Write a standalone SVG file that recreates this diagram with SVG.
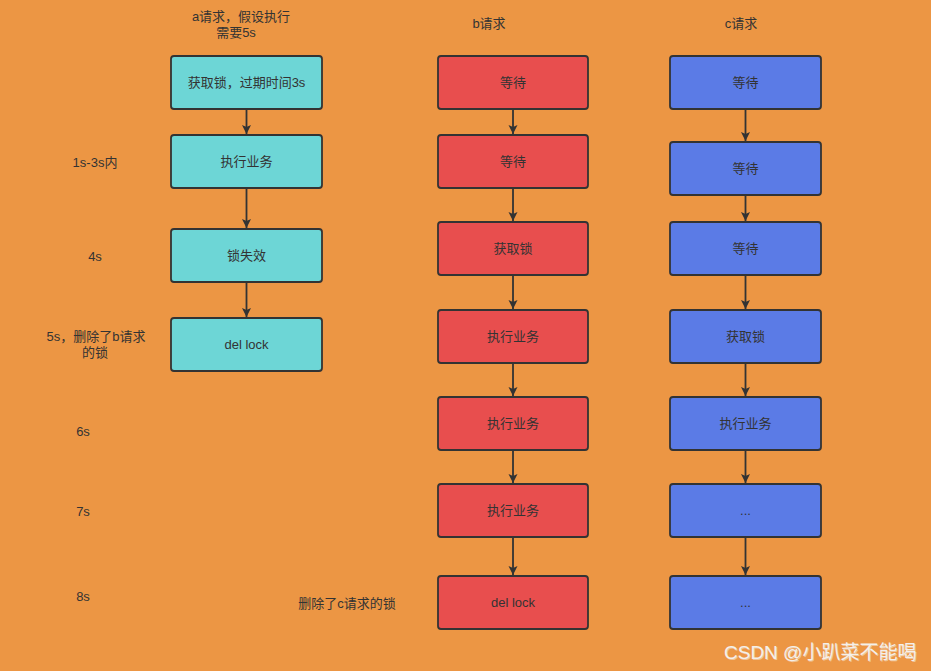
<svg xmlns="http://www.w3.org/2000/svg" width="931" height="671" viewBox="0 0 931 671">
<style>
.t{font-family:"Liberation Sans","Noto Sans CJK SC",sans-serif;font-size:13px;fill:#333;text-anchor:middle;dominant-baseline:central}
.box rect{stroke:#333;stroke-width:1.8}
.a rect{fill:#6DD6D6}
.b rect{fill:#E84E4E}
.c rect{fill:#5B7BE6}
.conn line{stroke:#333;stroke-width:1.8;fill:none}
.wm{font-family:"Liberation Sans","Noto Sans CJK SC",sans-serif;font-size:19px;fill:#F4F0EA}
</style>
<defs>
<marker id="arr" markerWidth="12" markerHeight="12" refX="9" refY="5.5" orient="auto" markerUnits="userSpaceOnUse">
<path d="M0,1 L9,5.5 L0,10 L2,5.5 Z" fill="#333"/>
</marker>
</defs>
<rect width="931" height="671" fill="#EC9644"/>

<g id="labels">
<text class="t" x="241" y="16">a请求，假设执行</text>
<text class="t" x="236" y="32">需要5s</text>
<text class="t" x="489" y="23">b请求</text>
<text class="t" x="741" y="23">c请求</text>
<text class="t" x="95" y="162">1s-3s内</text>
<text class="t" x="95" y="256">4s</text>
<text class="t" x="96" y="336">5s，删除了b请求</text>
<text class="t" x="95" y="352">的锁</text>
<text class="t" x="83" y="431">6s</text>
<text class="t" x="83" y="511">7s</text>
<text class="t" x="83" y="596">8s</text>
<text class="t" x="347" y="603">删除了c请求的锁</text>
</g>

<g id="a1" class="box a"><rect x="171" y="56" width="151" height="53" rx="3"/><text class="t" x="246.5" y="82.5">获取锁，过期时间3s</text></g>
<g id="a2" class="box a"><rect x="171" y="135" width="151" height="53" rx="3"/><text class="t" x="246.5" y="161.5">执行业务</text></g>
<g id="a3" class="box a"><rect x="171" y="229" width="151" height="53" rx="3"/><text class="t" x="246.5" y="255.5">锁失效</text></g>
<g id="a4" class="box a"><rect x="171" y="318" width="151" height="53" rx="3"/><text class="t" x="246.5" y="344.5">del lock</text></g>

<g id="b1" class="box b"><rect x="438" y="56" width="150" height="53" rx="3"/><text class="t" x="513" y="82.5">等待</text></g>
<g id="b2" class="box b"><rect x="438" y="135" width="150" height="53" rx="3"/><text class="t" x="513" y="161.5">等待</text></g>
<g id="b3" class="box b"><rect x="438" y="222" width="150" height="53" rx="3"/><text class="t" x="513" y="248.5">获取锁</text></g>
<g id="b4" class="box b"><rect x="438" y="310" width="150" height="53" rx="3"/><text class="t" x="513" y="336.5">执行业务</text></g>
<g id="b5" class="box b"><rect x="438" y="397" width="150" height="53" rx="3"/><text class="t" x="513" y="423.5">执行业务</text></g>
<g id="b6" class="box b"><rect x="438" y="484" width="150" height="53" rx="3"/><text class="t" x="513" y="510.5">执行业务</text></g>
<g id="b7" class="box b"><rect x="438" y="576" width="150" height="53" rx="3"/><text class="t" x="513" y="602.5">del lock</text></g>

<g id="c1" class="box c"><rect x="670" y="56" width="151" height="53" rx="3"/><text class="t" x="745.5" y="82.5">等待</text></g>
<g id="c2" class="box c"><rect x="670" y="142" width="151" height="53" rx="3"/><text class="t" x="745.5" y="168.5">等待</text></g>
<g id="c3" class="box c"><rect x="670" y="222" width="151" height="53" rx="3"/><text class="t" x="745.5" y="248.5">等待</text></g>
<g id="c4" class="box c"><rect x="670" y="310" width="151" height="53" rx="3"/><text class="t" x="745.5" y="336.5">获取锁</text></g>
<g id="c5" class="box c"><rect x="670" y="397" width="151" height="53" rx="3"/><text class="t" x="745.5" y="423.5">执行业务</text></g>
<g id="c6" class="box c"><rect x="670" y="484" width="151" height="53" rx="3"/><text class="t" x="745.5" y="510.5">...</text></g>
<g id="c7" class="box c"><rect x="670" y="576" width="151" height="53" rx="3"/><text class="t" x="745.5" y="602.5">...</text></g>

<g id="connectors" class="conn">
<line x1="246.5" y1="109" x2="246.5" y2="134" marker-end="url(#arr)"/>
<line x1="246.5" y1="188" x2="246.5" y2="228" marker-end="url(#arr)"/>
<line x1="246.5" y1="282" x2="246.5" y2="317" marker-end="url(#arr)"/>
<line x1="513" y1="109" x2="513" y2="134" marker-end="url(#arr)"/>
<line x1="513" y1="188" x2="513" y2="221" marker-end="url(#arr)"/>
<line x1="513" y1="275" x2="513" y2="309" marker-end="url(#arr)"/>
<line x1="513" y1="363" x2="513" y2="396" marker-end="url(#arr)"/>
<line x1="513" y1="450" x2="513" y2="483" marker-end="url(#arr)"/>
<line x1="513" y1="537" x2="513" y2="575" marker-end="url(#arr)"/>
<line x1="745.5" y1="109" x2="745.5" y2="141" marker-end="url(#arr)"/>
<line x1="745.5" y1="195" x2="745.5" y2="221" marker-end="url(#arr)"/>
<line x1="745.5" y1="275" x2="745.5" y2="309" marker-end="url(#arr)"/>
<line x1="745.5" y1="363" x2="745.5" y2="396" marker-end="url(#arr)"/>
<line x1="745.5" y1="450" x2="745.5" y2="483" marker-end="url(#arr)"/>
<line x1="745.5" y1="537" x2="745.5" y2="575" marker-end="url(#arr)"/>
</g>

<text class="wm" x="724" y="659" fill="#7a5a3a" opacity="0.5" transform="translate(1,1)">CSDN @小趴菜不能喝</text>
<text class="wm" x="724" y="659">CSDN @小趴菜不能喝</text>
</svg>
